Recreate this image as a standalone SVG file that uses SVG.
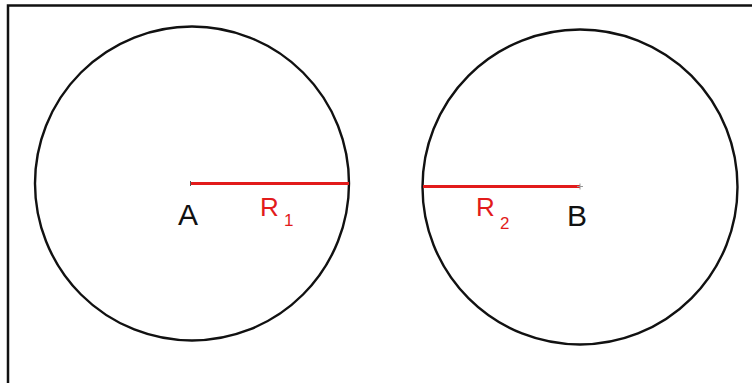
<svg xmlns="http://www.w3.org/2000/svg" width="752" height="383" viewBox="0 0 752 383">
<style>
.circ{fill:none;stroke:#111;stroke-width:2.4}
.rad{stroke:#e21b1b;stroke-width:3;stroke-linecap:butt}
.lblk{font-family:"Liberation Sans",Arial,sans-serif;font-size:30px;fill:#111}
.lred{font-family:"Liberation Sans",Arial,sans-serif;fill:#e21b1b}
</style>
<rect x="0" y="0" width="752" height="383" fill="#fff"/>
<path d="M8 383 V5.5 H752" fill="none" stroke="#111" stroke-width="2.5"/>
<g id="circleA">
<circle class="circ" cx="192" cy="183.5" r="157"/>
<text class="lblk" x="188" y="225" text-anchor="middle">A</text>
</g>
<g id="circleB">
<circle class="circ" cx="580" cy="187" r="157.5"/>
<text class="lblk" x="577" y="226" text-anchor="middle">B</text>
</g>
<g id="connectors">
<line class="rad" x1="190.5" y1="183.5" x2="349" y2="183.5"/>
<line class="rad" x1="423" y1="186.5" x2="580" y2="186.5"/>
<path d="M577 186.5 H583 M580 183.5 V189.5" stroke="#999" stroke-width="1"/>
<path d="M190.5 181 V186" stroke="#555" stroke-width="1"/>
</g>
<g id="labels">
<text class="lred" x="260" y="216" font-size="26">R</text>
<text class="lred" x="284" y="226" font-size="17">1</text>
<text class="lred" x="476" y="216" font-size="26">R</text>
<text class="lred" x="500" y="229" font-size="17">2</text>
</g>
</svg>
